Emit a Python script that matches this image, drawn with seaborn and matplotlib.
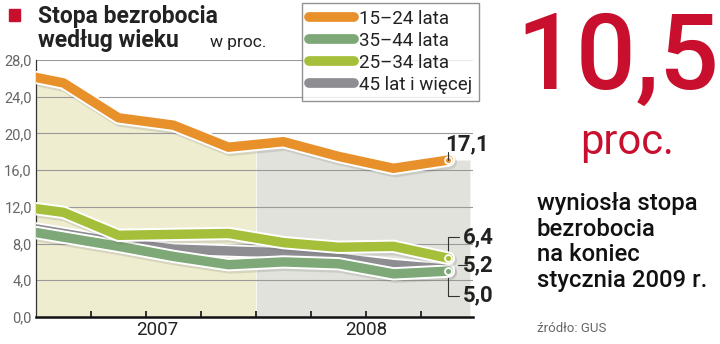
import numpy as np
import pandas as pd
import matplotlib
matplotlib.use("Agg")
import matplotlib.pyplot as plt
import matplotlib.patheffects as pe
from matplotlib.lines import Line2D
from matplotlib.patches import Rectangle
import seaborn as sns

# ---- data (months since Jan 2007; quarterly values plotted mid-quarter) ----
months = [0, 1.5, 4.5, 7.5, 10.5, 13.5, 16.5, 19.5, 22.5]
age_15_24 = [26.1, 25.5, 21.7, 20.9, 18.5, 19.1, 17.5, 16.2, 17.1]
age_35_44 = [9.2, 8.7, 7.7, 6.6, 5.7, 6.0, 5.8, 4.7, 5.0]
age_25_34 = [11.8, 11.4, 8.9, 9.0, 9.1, 8.1, 7.6, 7.7, 6.4]
age_45_up = [9.6, 9.1, 8.1, 7.4, 7.2, 7.0, 6.4, 5.7, 5.2]
series_labels = ["15–24 lata", "35–44 lata", "25–34 lata", "45 lat i więcej"]
end_labels = ["17,1", "5,0", "6,4", "5,2"]
year_labels = ["2007", "2008"]
yticks = [0, 4, 8, 12, 16, 20, 24, 28]
ytick_labels = ["0,0", "4,0", "8,0", "12,0", "16,0", "20,0", "24,0", "28,0"]

colors = ["#E8902A", "#7EA877", "#A6BF3A", "#8D8D92"]
RED = "#C8102E"

sns.set_theme(style="white")
plt.rcParams["font.family"] = ["Roboto", "DejaVu Sans"]

fig = plt.figure(figsize=(7.2, 3.44), dpi=100)
ax = fig.add_axes([36 / 720, 1 - 317 / 344, (473 - 36) / 720, 257 / 344])
XMAX = 23.84
ax.set_xlim(0, XMAX)
ax.set_ylim(0, 28)

# background fills under the 15-24 line
xf = np.linspace(0, XMAX * 0.993, 600)
yf = np.interp(xf, months, age_15_24)
ax.fill_between(xf, 0, yf, where=xf <= 12, color="#EFEDCF", lw=0, zorder=0)
ax.fill_between(xf, 0, yf, where=xf >= 12, color="#E2E2DC", lw=0, zorder=0)

# grid
for t in yticks[1:]:
    ax.axhline(t, color="#9a9a9a", lw=0.8, zorder=1)

df = pd.DataFrame({
    "month": months * 4,
    "value": age_15_24 + age_35_44 + age_25_34 + age_45_up,
    "series": sum([[s] * len(months) for s in series_labels], []),
})

order_z = {"45 lat i więcej": 3, "35–44 lata": 4, "25–34 lata": 5, "15–24 lata": 6}
for s, c in zip(series_labels, colors):
    sub = df[df.series == s]
    sns.lineplot(data=sub, x="month", y="value", ax=ax, color=c, lw=6.8,
                 legend=False, zorder=order_z[s], solid_capstyle="round",
                 solid_joinstyle="round")
    line = ax.lines[-1]
    line.set_path_effects([
        pe.SimpleLineShadow(offset=(1.2, -1.5), shadow_color="#666", alpha=0.18, linewidth=10),
        pe.Stroke(linewidth=9.6, foreground="white"),
        pe.Normal(),
    ])
    ax.plot(sub.month.iloc[-1], sub.value.iloc[-1], "o", ms=5, mfc=c, mec="white",
            mew=1.3, zorder=order_z[s] + 0.5)

# spines & ticks
for side in ["top", "right"]:
    ax.spines[side].set_visible(False)
ax.spines["left"].set_color("#333")
ax.spines["left"].set_linewidth(0.9)
ax.spines["bottom"].set_color("#111")
ax.spines["bottom"].set_linewidth(1.8)
ax.set_yticks(yticks)
ax.set_yticklabels(ytick_labels, color="#666", fontsize=10.5)
ax.set_xticks([3, 6, 9, 12, 15, 18, 21])
ax.set_xticklabels([])
ax.tick_params(axis="x", direction="in", length=4, width=1.2, color="#111", bottom=True)
ax.tick_params(axis="y", length=0, pad=3)
ax.set_xlabel("")
ax.set_ylabel("")
ax.text(6.6, -1.45, year_labels[0], ha="center", va="center", fontsize=13.5, color="#222")
ax.text(18.0, -1.45, year_labels[1], ha="center", va="center", fontsize=13.5, color="#222")

# end value labels with leader lines
lx = months[-1]
ax.plot([lx, lx], [age_15_24[-1], 18.0], color="#333", lw=0.8, zorder=8)
ax.text(lx - 0.2, 17.6, end_labels[0], fontsize=16, fontweight="bold", color="#222",
        ha="left", va="bottom", zorder=9)
ax.plot([lx, lx, 23.1], [age_25_34[-1], 8.7, 8.7], color="#333", lw=0.8, zorder=2, clip_on=False)
ax.plot([23.0, 23.5], [5.65, 5.65], color="#333", lw=0.8, zorder=2, clip_on=False)
ax.plot([lx, lx, 23.1], [age_35_44[-1], 2.3, 2.3], color="#333", lw=0.8, zorder=2, clip_on=False)
for txt, yv in [(end_labels[2], 8.7), (end_labels[3], 5.6), (end_labels[1], 2.35)]:
    ax.text(23.3, yv, txt, fontsize=16, fontweight="bold", color="#222",
            ha="left", va="center", clip_on=False)

# legend
handles = [Line2D([0], [0], color=c, lw=7, solid_capstyle="round") for c in colors]
leg = ax.legend(handles, series_labels, loc="upper left",
                bbox_to_anchor=(302 / 720, 1 - 3 / 344), bbox_transform=fig.transFigure,
                frameon=True, fancybox=False, edgecolor="#777", facecolor="white",
                fontsize=13.5, handlelength=2.4, handletextpad=0.3, labelspacing=0.22,
                borderpad=0.35, borderaxespad=0)
leg.get_frame().set_linewidth(1.0)
for t in leg.get_texts():
    t.set_color("#222")

# title
fig.patches.append(Rectangle((9 / 720, 1 - 21 / 344), 11 / 720, 12 / 344,
                             transform=fig.transFigure, color=RED))
fig.text(38 / 720, 1 - 17 / 344, "Stopa bezrobocia", fontsize=16.5, fontweight="bold",
         color="#222", va="center")
fig.text(38 / 720, 1 - 41 / 344, "według wieku", fontsize=16.5, fontweight="bold",
         color="#222", va="center")
fig.text(210 / 720, 1 - 43 / 344, "w proc.", fontsize=12.5, color="#222", va="center")

# right side
fig.text(618 / 720, 1 - 60 / 344, "10,5", fontsize=76, color=RED, ha="center", va="center",
         fontweight="medium")
fig.text(627 / 720, 1 - 142 / 344, "proc.", fontsize=30, color=RED, ha="center",
         va="center")
fig.text(537 / 720, 1 - 192 / 344, "wyniosła stopa\nbezrobocia\nna koniec\nstycznia 2009 r.",
         fontsize=17.2, color="#111", ha="left", va="top", linespacing=1.15, fontweight="medium")
fig.text(537 / 720, 1 - 328 / 344, "źródło: GUS", fontsize=9.5, color="#666", ha="left",
         va="center")

fig.savefig("out.png", dpi=100)
